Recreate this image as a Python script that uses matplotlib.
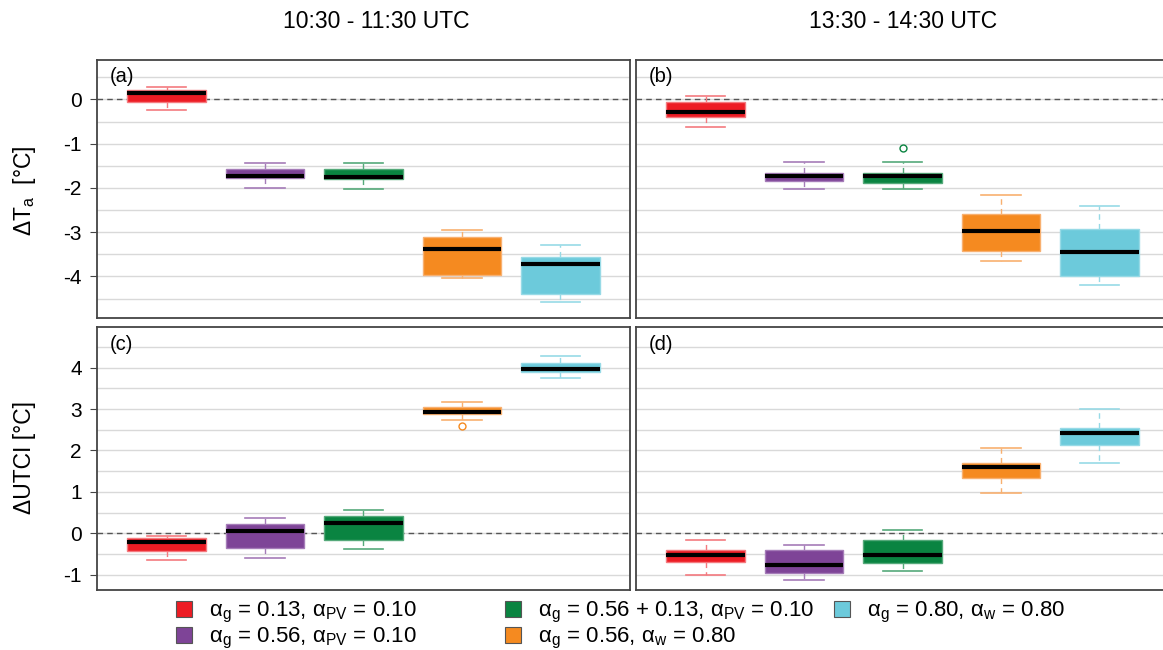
import math
import matplotlib
matplotlib.use("Agg")
import matplotlib.pyplot as plt
from matplotlib.patches import Patch

plt.rcParams['font.family'] = ['Liberation Sans', 'DejaVu Sans']
plt.rcParams['mathtext.default'] = 'regular'
plt.rcParams['axes.unicode_minus'] = False

# scenario labels and colours
labels = ['α$_g$ = 0.13, α$_{PV}$ = 0.10',
          'α$_g$ = 0.56, α$_{PV}$ = 0.10',
          'α$_g$ = 0.56 + 0.13, α$_{PV}$ = 0.10',
          'α$_g$ = 0.56, α$_w$ = 0.80',
          'α$_g$ = 0.80, α$_w$ = 0.80']
fills = ['#ED1C24', '#7E4497', '#0A8441', '#F58A20', '#6CCADB']
edges = ['#F47A7F', '#A57CB8', '#55A97A', '#F8B070', '#97DAE6']

# summary stats per box: whislo, q1, med, q3, whishi
ta_morning = [(-0.25, -0.05, 0.135, 0.21, 0.28),
              (-2.00, -1.78, -1.725, -1.58, -1.44),
              (-2.03, -1.80, -1.75, -1.58, -1.43),
              (-4.03, -3.97, -3.39, -3.11, -2.95),
              (-4.57, -4.40, -3.73, -3.56, -3.29)]
ta_noon = [(-0.615, -0.40, -0.29, -0.06, 0.07),
           (-2.02, -1.845, -1.725, -1.66, -1.41),
           (-2.02, -1.90, -1.725, -1.66, -1.41),
           (-3.66, -3.42, -2.98, -2.58, -2.16),
           (-4.20, -4.00, -3.44, -2.93, -2.42)]
utci_morning = [(-0.64, -0.43, -0.22, -0.11, -0.07),
                (-0.59, -0.35, 0.05, 0.225, 0.37),
                (-0.37, -0.16, 0.24, 0.42, 0.565),
                (2.73, 2.87, 2.935, 3.04, 3.18),
                (3.74, 3.90, 3.97, 4.105, 4.29)]
utci_noon = [(-1.00, -0.69, -0.53, -0.41, -0.17),
             (-1.13, -0.96, -0.76, -0.40, -0.29),
             (-0.90, -0.73, -0.53, -0.16, 0.08),
             (0.96, 1.34, 1.61, 1.69, 2.07),
             (1.685, 2.12, 2.42, 2.55, 3.01)]
# outliers: (box index, value)
ta_noon_out = [(2, -1.095)]
utci_morning_out = [(3, 2.59)]

panels = [
    ('(a)', ta_morning, [], (-4.94, 0.89)),
    ('(b)', ta_noon, ta_noon_out, (-4.94, 0.89)),
    ('(c)', utci_morning, utci_morning_out, (-1.37, 4.98)),
    ('(d)', utci_noon, [], (-1.37, 4.98)),
]

W, H = 1163, 650
fig = plt.figure(figsize=(W / 100, H / 100), dpi=100)

rects = [(97, 60, 533, 258), (636, 60, 533, 258),
         (97, 327, 533, 263), (636, 327, 533, 263)]

for (tag, stats, outl, ylim), (x0, y0, w, h) in zip(panels, rects):
    ax = fig.add_axes([x0 / W, 1 - (y0 + h) / H, w / W, h / H])
    ax.set_axisbelow(True)
    for i, s in enumerate(stats):
        lo, q1, med, q3, hi = s
        fl = [v for k, v in outl if k == i]
        st = [dict(whislo=lo, q1=q1, med=med, q3=q3, whishi=hi, fliers=fl)]
        ax.bxp(st, positions=[i + 1], widths=0.8, capwidths=0.4,
               patch_artist=True, showfliers=True,
               boxprops=dict(facecolor=fills[i], edgecolor=edges[i], linewidth=1),
               whiskerprops=dict(color=edges[i], linestyle=(0, (4, 3)), linewidth=1),
               capprops=dict(color=edges[i], linewidth=1.2),
               medianprops=dict(color='black', linewidth=3, solid_capstyle='butt'),
               flierprops=dict(marker='o', markersize=5, markerfacecolor='none',
                               markeredgecolor=fills[i], markeredgewidth=1))
    ax.axhline(0, color='#555555', linestyle=(0, (4, 3)), linewidth=1, zorder=1.5)
    ax.set_xticks([])
    lo_i, hi_i = math.ceil(ylim[0]), math.floor(ylim[1])
    ax.set_yticks(range(lo_i, hi_i + 1))
    ax.set_yticks([v + 0.5 for v in range(lo_i - 1, hi_i + 1)], minor=True)
    ax.set_xlim(0.29, 5.71)
    ax.set_ylim(*ylim)
    ax.grid(True, axis='y', which='both', color='#d9d9d9', linewidth=1)
    ax.tick_params(axis='y', which='major', length=5, color='#444444',
                   labelsize=15, pad=6)
    ax.tick_params(axis='y', which='minor', length=0)
    if tag in ('(b)', '(d)'):
        ax.tick_params(axis='y', which='major', length=0)
        ax.set_yticklabels([])
    for sp in ax.spines.values():
        sp.set_color('#444444')
        sp.set_linewidth(1.3)
    ax.text(0.024, 0.935, tag, transform=ax.transAxes, fontsize=14.5,
            ha='left', va='center')

fig.text(376 / W, 1 - 22 / H, '10:30 - 11:30 UTC', fontsize=16.5, ha='center', va='center')
fig.text(903 / W, 1 - 22 / H, '13:30 - 14:30 UTC', fontsize=16.5, ha='center', va='center')
fig.text(24 / W, 1 - 191 / H, 'ΔT$_a$  [°C]', fontsize=16.5, rotation=90,
         ha='center', va='center')
fig.text(24 / W, 1 - 457 / H, 'ΔUTCI [°C]', fontsize=16.5, rotation=90,
         ha='center', va='center')

# legend: three equal-width columns, filled top to bottom
handles = [Patch(facecolor=f, edgecolor='#555555', linewidth=0.8) for f in fills]
col_x = [176, 505, 834]
for c, x in enumerate(col_x):
    idx = [k for k in (2 * c, 2 * c + 1) if k < len(labels)]
    fig.legend([handles[k] for k in idx], [labels[k] for k in idx],
               loc='upper left', bbox_to_anchor=(x / W, 1 - 600 / H),
               frameon=False, fontsize=16, handlelength=0.7, handleheight=0.7,
               handletextpad=0.8, labelspacing=0.05, borderpad=0, borderaxespad=0)

fig.savefig('out.png', dpi=100)
